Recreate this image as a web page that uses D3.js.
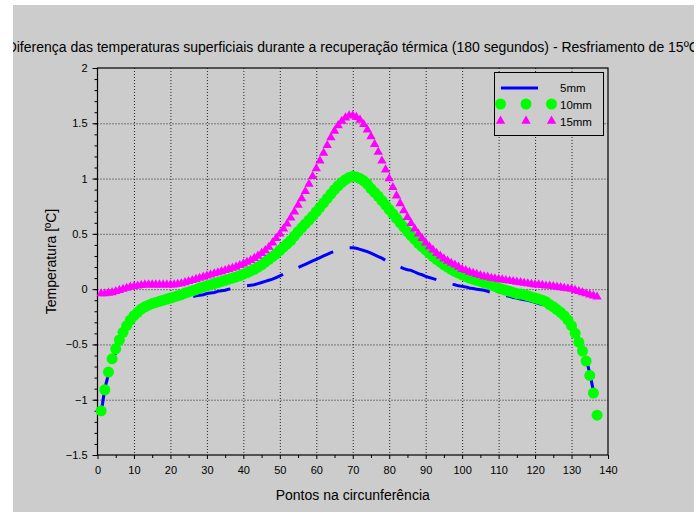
<!DOCTYPE html>
<html>
<head>
<meta charset="utf-8">
<script src="https://cdn.jsdelivr.net/npm/d3@7"></script>
<style>
  body { margin: 0; background: #fff; }
  text { font-family: "Liberation Sans", Arial, sans-serif; }
</style>
</head>
<body>
<svg id="chart" width="696" height="513"></svg>
<script>
// pontos 1..137 na circunferencia
let pontos = d3.range(1, 138);

let serie5 = [
  -1.12, -0.90, -0.77, -0.66, -0.57, -0.49, -0.42, -0.36, -0.31, -0.27,
  -0.24, -0.21, -0.19, -0.175, -0.16, -0.15, -0.14, -0.13, -0.12, -0.11,
  -0.10, -0.095, -0.09, -0.08, -0.075, -0.07, -0.06, -0.055, -0.05, -0.04,
  -0.035, -0.03, -0.02, -0.015, -0.01, 0.0, 0.005, 0.01, 0.02, 0.025,
  0.03, 0.035, 0.04, 0.05, 0.06, 0.07, 0.08, 0.09, 0.105, 0.12,
  0.135, 0.15, 0.165, 0.18, 0.195, 0.21, 0.225, 0.24, 0.255, 0.27,
  0.285, 0.30, 0.315, 0.33, 0.34, 0.35, 0.36, 0.37, 0.375, 0.375,
  0.37, 0.36, 0.35, 0.34, 0.325, 0.31, 0.295, 0.28, 0.26, 0.245,
  0.23, 0.215, 0.20, 0.185, 0.175, 0.17, 0.155, 0.14, 0.13, 0.115,
  0.105, 0.095, 0.085, 0.075, 0.065, 0.06, 0.045, 0.04, 0.03, 0.025,
  0.02, 0.01, 0.005, 0.0, -0.005, -0.01, -0.02, -0.03, -0.04, -0.045,
  -0.05, -0.06, -0.065, -0.075, -0.08, -0.09, -0.095, -0.10, -0.11, -0.12,
  -0.13, -0.14, -0.15, -0.165, -0.18, -0.20, -0.22, -0.25, -0.28, -0.32,
  -0.38, -0.45, -0.53, -0.63, -0.76, -0.92, -1.13
];

let serie10 = [
  -1.10, -0.91, -0.75, -0.63, -0.54, -0.46, -0.39, -0.33, -0.28, -0.24,
  -0.21, -0.18, -0.16, -0.145, -0.13, -0.12, -0.11, -0.10, -0.09, -0.08,
  -0.07, -0.06, -0.05, -0.035, -0.025, -0.015, -0.005, 0.01, 0.02, 0.03,
  0.04, 0.05, 0.06, 0.07, 0.08, 0.09, 0.10, 0.11, 0.12, 0.135,
  0.15, 0.165, 0.18, 0.20, 0.22, 0.245, 0.27, 0.295, 0.32, 0.35,
  0.38, 0.41, 0.44, 0.48, 0.52, 0.555, 0.59, 0.625, 0.66, 0.70,
  0.74, 0.78, 0.82, 0.86, 0.90, 0.935, 0.965, 0.99, 1.01, 1.02,
  1.015, 1.00, 0.98, 0.95, 0.91, 0.875, 0.84, 0.80, 0.76, 0.72,
  0.68, 0.64, 0.60, 0.56, 0.52, 0.485, 0.45, 0.415, 0.385, 0.355,
  0.325, 0.295, 0.27, 0.245, 0.22, 0.20, 0.18, 0.16, 0.145, 0.13,
  0.115, 0.10, 0.09, 0.08, 0.07, 0.06, 0.05, 0.04, 0.025, 0.01,
  0.0, -0.01, -0.02, -0.03, -0.04, -0.045, -0.05, -0.06, -0.07, -0.08,
  -0.09, -0.10, -0.115, -0.14, -0.16, -0.185, -0.21, -0.24, -0.28, -0.33,
  -0.40, -0.48, -0.56, -0.65, -0.78, -0.94, -1.14
];

let serie15 = [
  -0.04, -0.04, -0.035, -0.03, -0.02, -0.01, 0.0, 0.01, 0.02, 0.025,
  0.03, 0.035, 0.04, 0.04, 0.04, 0.04, 0.04, 0.04, 0.04, 0.04,
  0.04, 0.045, 0.05, 0.06, 0.07, 0.08, 0.09, 0.10, 0.11, 0.12,
  0.13, 0.14, 0.15, 0.16, 0.17, 0.18, 0.19, 0.20, 0.215, 0.23,
  0.245, 0.26, 0.28, 0.30, 0.325, 0.35, 0.38, 0.42, 0.46, 0.50,
  0.545, 0.59, 0.645, 0.70, 0.76, 0.82, 0.885, 0.95, 1.02, 1.09,
  1.16, 1.23, 1.30, 1.37, 1.43, 1.48, 1.52, 1.55, 1.57, 1.57,
  1.555, 1.53, 1.49, 1.44, 1.38, 1.31, 1.24, 1.16, 1.08, 1.00,
  0.92, 0.845, 0.775, 0.71, 0.65, 0.595, 0.545, 0.50, 0.46, 0.42,
  0.385, 0.355, 0.325, 0.30, 0.275, 0.255, 0.235, 0.22, 0.20, 0.18,
  0.17, 0.155, 0.145, 0.135, 0.125, 0.115, 0.11, 0.10, 0.095, 0.09,
  0.085, 0.08, 0.075, 0.07, 0.065, 0.06, 0.055, 0.05, 0.045, 0.04,
  0.04, 0.035, 0.03, 0.03, 0.025, 0.02, 0.015, 0.01, 0.005, 0.0,
  -0.01, -0.02, -0.03, -0.04, -0.05, -0.06, -0.07
];

let xTicks = d3.range(0, 141, 10);
let xMinor = d3.range(5, 140, 10);
let yTicks = [-1.5, -1, -0.5, 0, 0.5, 1, 1.5, 2];
let yMinor = d3.range(-15, 21).map(d => d / 10);
let legendLabels = ['5mm', '10mm', '15mm'];

let titulo = 'Diferença das temperaturas superficiais durante a recuperação térmica (180 segundos) - Resfriamento de 15ºC';

let svg = d3.select('#chart');

// area cinza da figura
svg.append('defs').append('clipPath').attr('id', 'fig')
  .append('rect').attr('x', 13).attr('y', 5).attr('width', 681).attr('height', 507);
let fig = svg.append('g').attr('clip-path', 'url(#fig)');
fig.append('rect').attr('x', 13).attr('y', 5).attr('width', 681).attr('height', 507).attr('fill', '#cccccc');

let x = d3.scaleLinear().domain([0, 140]).range([97.5, 608]);
let y = d3.scaleLinear().domain([-1.5, 2]).range([455, 68]);

// grade pontilhada
let grid = fig.append('g');
grid.selectAll('.gx').data(xTicks.slice(1, -1)).enter().append('line')
  .attr('x1', d => x(d) + 0.5).attr('x2', d => x(d) + 0.5)
  .attr('y1', y(2)).attr('y2', y(-1.5))
  .attr('stroke', '#222').attr('stroke-dasharray', '1,2');
grid.selectAll('.gy').data(yTicks.slice(1, -1)).enter().append('line')
  .attr('x1', x(0)).attr('x2', x(140))
  .attr('y1', d => y(d) + 0.5).attr('y2', d => y(d) + 0.5)
  .attr('stroke', '#222').attr('stroke-dasharray', '1,2');

// eixos
let xAxis = d3.axisBottom(x).tickValues(xTicks).tickSize(4).tickPadding(7);
let gx = fig.append('g').attr('transform', 'translate(0,' + y(-1.5) + ')').call(xAxis);
gx.select('.domain').remove();
gx.selectAll('text').attr('font-size', 11).attr('fill', '#000');
gx.selectAll('line').attr('stroke', '#000');
fig.append('g').attr('transform', 'translate(0,' + y(-1.5) + ')')
  .call(d3.axisBottom(x).tickValues(xMinor).tickSize(3).tickFormat(''))
  .select('.domain').remove();

let yAxis = d3.axisLeft(y).tickValues(yTicks).tickSize(5).tickPadding(5).tickFormat(d3.format('~g'));
let gy = fig.append('g').attr('transform', 'translate(' + x(0) + ',0)').call(yAxis);
gy.select('.domain').remove();
gy.selectAll('text').attr('font-size', 11).attr('fill', '#000');
fig.append('g').attr('transform', 'translate(' + x(0) + ',0)')
  .call(d3.axisLeft(y).tickValues(yMinor).tickSize(3).tickFormat(''))
  .select('.domain').remove();

fig.append('rect')
  .attr('x', x(0)).attr('y', y(2))
  .attr('width', x(140) - x(0)).attr('height', y(-1.5) - y(2))
  .attr('fill', 'none').attr('stroke', '#000').attr('stroke-width', 1.2);

// series
let pts5 = pontos.map((p, i) => [x(p), y(serie5[i])]);
let line = d3.line();

// fase do tracejado: um traco comeca no ponto 42
let acc = 0;
for (let i = 1; i < 41; i++) {
  acc += Math.hypot(pts5[i][0] - pts5[i - 1][0], pts5[i][1] - pts5[i - 1][1]);
}
let periodo = 55;
fig.append('path')
  .attr('d', line(pts5))
  .attr('fill', 'none')
  .attr('stroke', '#0000ff')
  .attr('stroke-width', 3)
  .attr('stroke-dasharray', '38,17')
  .attr('stroke-dashoffset', periodo - (acc % periodo));

fig.append('g').selectAll('circle').data(pontos).enter().append('circle')
  .attr('cx', d => x(d))
  .attr('cy', (d, i) => y(serie10[i]))
  .attr('r', 5.5)
  .attr('fill', '#00ff00');

let tri = d3.symbol().type(d3.symbolTriangle).size(38);
fig.append('g').selectAll('path').data(pontos).enter().append('path')
  .attr('d', tri)
  .attr('transform', (d, i) => 'translate(' + x(d) + ',' + y(serie15[i]) + ')')
  .attr('fill', '#ff00ff');

// legenda
let leg = fig.append('g');
leg.append('rect').attr('x', 494.5).attr('y', 72.5).attr('width', 109).attr('height', 63)
  .attr('fill', '#cccccc').attr('stroke', '#000').attr('stroke-width', 1);
leg.append('line').attr('x1', 501).attr('x2', 538).attr('y1', 88).attr('y2', 88)
  .attr('stroke', '#0000ff').attr('stroke-width', 3);
[500.5, 526, 551.5].forEach(cx => {
  leg.append('circle').attr('cx', cx).attr('cy', 104).attr('r', 5.5).attr('fill', '#00ff00');
  leg.append('path').attr('d', tri).attr('transform', 'translate(' + cx + ',121)').attr('fill', '#ff00ff');
});
leg.selectAll('.lt').data(legendLabels).enter().append('text')
  .attr('x', 560).attr('y', (d, i) => 92 + i * 17)
  .attr('font-size', 11.5).attr('fill', '#000')
  .text(d => d);

// textos
fig.append('text').attr('x', (x(0) + x(140)) / 2).attr('y', 52)
  .attr('text-anchor', 'middle').attr('font-size', 14).attr('fill', '#000')
  .text(titulo);
fig.append('text').attr('x', (x(0) + x(140)) / 2).attr('y', 500)
  .attr('text-anchor', 'middle').attr('font-size', 14).attr('fill', '#000')
  .text('Pontos na circunferência');
fig.append('text')
  .attr('transform', 'translate(56,' + (y(2) + y(-1.5)) / 2 + ') rotate(-90)')
  .attr('text-anchor', 'middle').attr('font-size', 14).attr('fill', '#000')
  .text('Temperatura [ºC]');
</script>
</body>
</html>
